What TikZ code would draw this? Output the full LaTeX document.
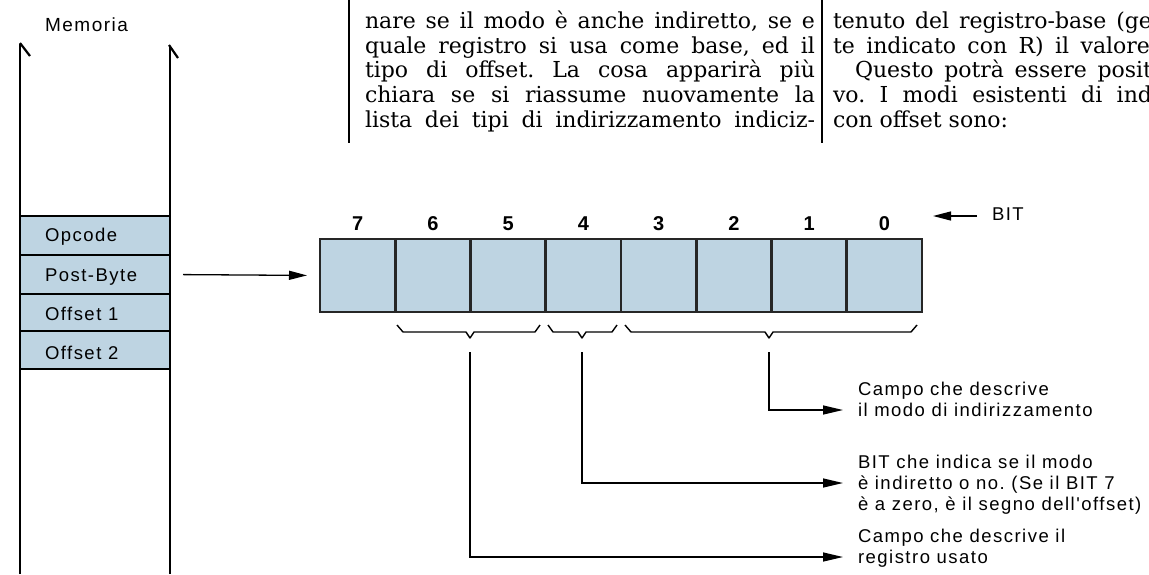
\documentclass[tikz,border=0pt]{standalone}
\usepackage{fontspec}
\usetikzlibrary{arrows.meta,calc}
\newfontfamily\labfont[LetterSpace=8]{Liberation Sans}
\newfontfamily\digfont{Liberation Sans}
\newfontfamily\bodyfont{DejaVu Serif}
\definecolor{cellblue}{RGB}{190,212,226}
\frenchspacing
\begin{document}
\begin{tikzpicture}[x=1pt,y=-1pt,
  every node/.style={inner sep=0pt,outer sep=0pt},
  memrow/.style={draw=black,line width=2pt,fill=cellblue,minimum width=150pt,anchor=north west},
  bitcell/.style={draw=black!85,line width=2.6pt,fill=cellblue,minimum width=75.25pt,minimum height=73pt,anchor=north west},
  lab/.style={font=\labfont\fontsize{18.5}{21}\selectfont,anchor=base west},
  digit/.style={font=\digfont\bfseries\fontsize{20}{22}\selectfont,anchor=base},
  body/.style={font=\bodyfont\fontsize{22}{24}\selectfont,anchor=base west},
  conn/.style={line width=1.3pt,-{Triangle[length=20pt,width=9pt]}},
  bracestyle/.style={line width=1.4pt,line join=round},
  sepline/.style={line width=1.8pt},
  memline/.style={line width=2.2pt},
]
\useasboundingbox (0,0) rectangle (1149,574);

% --- text columns ---
\draw[sepline] (349,0) -- (349,143);
\draw[sepline] (822,0) -- (822,143);
\node[body] (a1) at (365,28) {\makebox[450pt][s]{nare se il modo è anche indiretto, se e}};
\node[body] (a2) at (365,53) {\makebox[450pt][s]{quale registro si usa come base, ed il}};
\node[body] (a3) at (365,77) {\makebox[450pt][s]{tipo di offset. La cosa apparirà più}};
\node[body] (a4) at (365,102) {\makebox[450pt][s]{chiara se si riassume nuovamente la}};
\node[body] (a5) at (365,127) {\makebox[450pt][s]{lista dei tipi di indirizzamento indiciz-}};
\node[body] (b1) at (833,28) {\makebox[319pt][s]{tenuto del registro-base (ge}};
\node[body] (b2) at (833,53) {\makebox[317pt][s]{te indicato con R) il valore}};
\node[body] (b3) at (855,77) {\makebox[297pt][s]{Questo potrà essere posit}};
\node[body] (b4) at (833,102) {\makebox[319pt][s]{vo. I modi esistenti di ind}};
\node[body] (b5) at (833,127) {con offset sono:};

% --- memory ---
\node[lab,font=\labfont\fontsize{19}{21}\selectfont] (mem) at (45,31) {Memoria};
\node[memrow,minimum height=39pt] (opc) at (20,216) {};
\node[memrow,minimum height=39pt] (pb) at (20,255) {};
\node[memrow,minimum height=37pt] (of1) at (20,294) {};
\node[memrow,minimum height=38pt] (of2) at (20,331) {};
\node[lab] (opct) at (45,241) {Opcode};
\node[lab] (pbt) at (45,281) {Post-Byte};
\node[lab] (of1t) at (45,320) {Offset 1};
\node[lab] (of2t) at (45,359) {Offset 2};
\draw[memline] (20,574) -- (20,44);
\draw[memline] (20,43) -- (30,56);
\draw[memline] (170,574) -- (170,46);
\draw[memline] (169,45) -- (178,58);

% --- byte ---
\foreach \i in {0,...,7}{
  \node[bitcell] (c\i) at ({320+75.25*(7-\i)},239) {};
  \node[digit] (d\i) at ({357.6+75.25*(7-\i)},230) {\i};
}
\draw[conn,-{Triangle[length=18pt,width=9pt]},shorten <=13pt,shorten >=13pt] (pb.east) -- (c7.west);

% BIT pointer
\node[lab] (bit) at (992,220) {BIT};
\coordinate (bittip) at (933,216);
\draw[conn,-{Triangle[length=18pt,width=9pt]},shorten <=15pt] (bit.west |- bittip) -- (bittip);

% --- braces ---
\draw[bracestyle] (397,325) -- (403,332) -- (466,332) -- (470,338) -- (474,332) -- (535,332) -- (540,325);
\draw[bracestyle] (548,325) -- (553,332) -- (578,332) -- (582,338) -- (586,332) -- (612,332) -- (617,325);
\draw[bracestyle] (625,325) -- (631,332) -- (765,332) -- (769,338) -- (773,332) -- (911,332) -- (917,325);
\coordinate (n1) at (470,338);
\coordinate (n2) at (582,338);
\coordinate (n3) at (769,338);

% --- descriptions ---
\node[lab] (m1) at (858,395) {Campo che descrive};
\node[lab] (m2) at (858,416) {il modo di indirizzamento};
\node[lab] (i1) at (858,468) {BIT che indica se il modo};
\node[lab] (i2) at (858,489) {è indiretto o no. (Se il BIT 7};
\node[lab] (i3) at (858,510) {è a zero, è il segno dell'offset)};
\node[lab] (r1) at (858,542) {Campo che descrive il};
\node[lab] (r2) at (858,563) {registro usato};

\coordinate (t3) at (843,410);
\coordinate (t2) at (843,483);
\coordinate (t1) at (843,557);
\draw[conn,shorten <=14pt] (n3) |- (t3);
\draw[conn,shorten <=14pt] (n2) |- (t2);
\draw[conn,shorten <=14pt] (n1) |- (t1);
\end{tikzpicture}
\end{document}
